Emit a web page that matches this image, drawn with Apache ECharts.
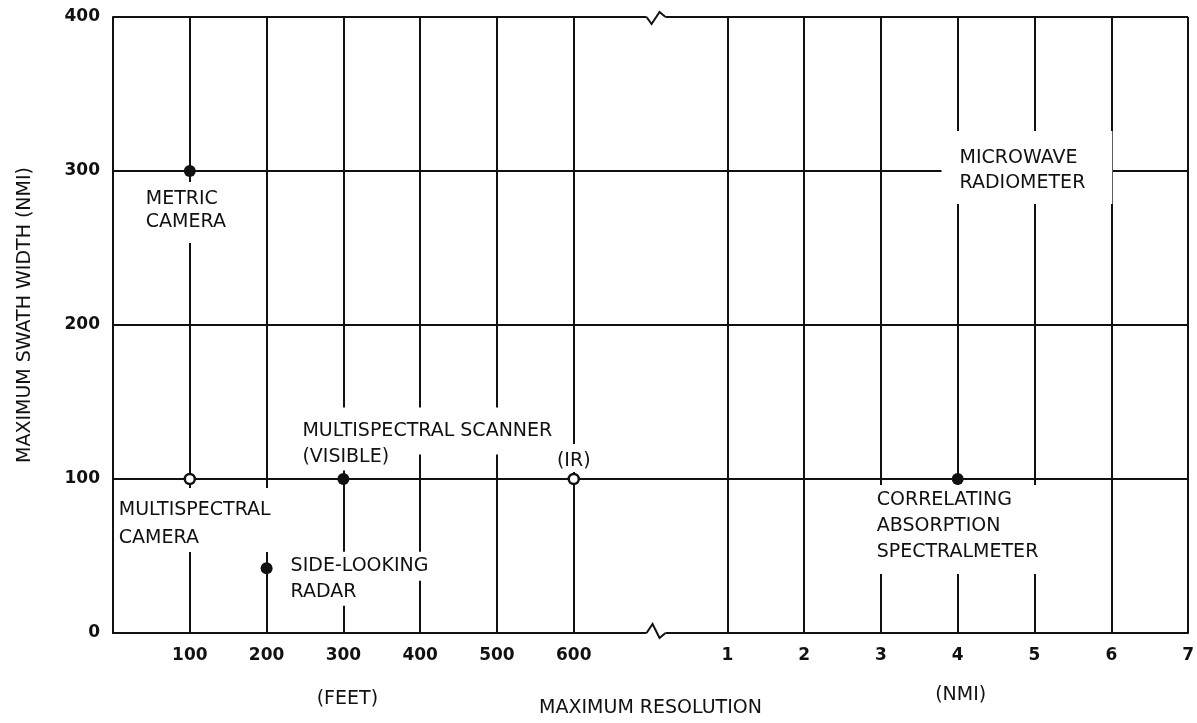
<!DOCTYPE html>
<html>
<head>
<meta charset="utf-8">
<title>Maximum swath width vs maximum resolution</title>
<style>
    html, body { margin: 0; padding: 0; background: #fff; }
    #chart { width: 1197px; height: 723px; }
</style>
</head>
<body>
<div id="chart"></div>
<script src="https://cdn.jsdelivr.net/npm/echarts@6/dist/echarts.min.js"></script>
<script>
    // sensors, best resolution and widest swath
    var sensors = ['METRIC CAMERA', 'MULTISPECTRAL CAMERA', 'SIDE-LOOKING RADAR',
        'MULTISPECTRAL SCANNER (VISIBLE)', 'MULTISPECTRAL SCANNER (IR)',
        'CORRELATING ABSORPTION SPECTRALMETER', 'MICROWAVE RADIOMETER'];
    var resolution = [100, 100, 200, 300, 600, 4, 5];
    var resolutionUnit = ['ft', 'ft', 'ft', 'ft', 'ft', 'nmi', 'nmi'];
    var swathWidth = [300, 100, 42, 100, 100, 100, 300];
    var marker = ['solid', 'open', 'solid', 'solid', 'open', 'solid', 'none'];
    var tagLines = [['METRIC', 'CAMERA'], ['MULTISPECTRAL', 'CAMERA'], ['SIDE-LOOKING', 'RADAR'],
        ['MULTISPECTRAL SCANNER', '(VISIBLE)'], ['(IR)'],
        ['CORRELATING', 'ABSORPTION', 'SPECTRALMETER'], ['MICROWAVE', 'RADIOMETER']];

    // broken x axis: feet on the left, nautical miles on the right
    var feetTicks = [100, 200, 300, 400, 500, 600];
    var nmiTicks = [1, 2, 3, 4, 5, 6, 7];
    var yTicks = [0, 100, 200, 300, 400];

    var INK = '#111';
    var FONT = 'DejaVu Sans';
    var feetStep = feetTicks[1] - feetTicks[0];
    var breakPos = feetTicks.length + 1;          // where the axis is broken
    var xMax = breakPos + nmiTicks.length;

    function axisPos(v, unit) {
        return unit === 'ft' ? v / feetStep : breakPos + v;
    }
    function tickText(v) {
        if (v >= 1 && v < breakPos) return String(feetTicks[v - 1]);
        if (v > breakPos) return String(nmiTicks[v - breakPos - 1]);
        return '';
    }

    // label placement (pixels relative to the point), white boxes hide the grid behind text
    var tagLayout = [
        {dx: -49, dy: 11, lh: 23, pad: [6, 6, 9, 5]},
        {dx: -75, dy: 9, lh: 28, pad: [8, 6, 0, 4]},
        {dx: 18, dy: -15, lh: 26, linePad: [[5, 6], [4, 6]]},
        {dx: -47, dy: -61, lh: 26, linePad: [[14, 6], [4, 6]]},
        {dx: 0, dy: -35, lh: 22, pad: [6, 4, 0, 4], align: 'center'},
        {dx: -87, dy: 6, lh: 26, pad: [2, 6, 9, 6]},
        {dx: -93, dy: -40, lh: 25, pad: [15, 27, 8, 18]}
    ];

    function tag(lines, t) {
        var label = {
            show: true, position: 'inside',
            align: t.align || 'left', verticalAlign: 'top',
            offset: [t.dx, t.dy],
            color: INK, fontSize: 19, fontFamily: FONT,
            lineHeight: t.lh, textBorderWidth: 0
        };
        if (t.linePad) {
            var rich = {};
            label.formatter = lines.map(function (s, i) {
                rich['l' + i] = {
                    backgroundColor: '#fff', color: INK, fontSize: 19, fontFamily: FONT,
                    lineHeight: t.lh, textBorderWidth: 0,
                    padding: [t.linePad[i][0], t.linePad[i][1], t.linePad[i][0], t.linePad[i][1]]
                };
                return '{l' + i + '|' + s + '}';
            }).join('\n');
            label.rich = rich;
        } else {
            label.formatter = lines.join('\n');
            label.backgroundColor = '#fff';
            label.padding = t.pad;
        }
        return label;
    }

    var points = sensors.map(function (name, i) {
        var m = marker[i];
        return {
            name: name,
            value: [axisPos(resolution[i], resolutionUnit[i]), swathWidth[i]],
            symbolSize: m === 'none' ? 1 : (m === 'open' ? 10 : 12),
            itemStyle: m === 'open'
                ? {color: '#fff', borderColor: INK, borderWidth: 2.5, opacity: 1}
                : {color: m === 'none' ? 'rgba(0,0,0,0)' : INK, opacity: 1},
            label: tag(tagLines[i], tagLayout[i])
        };
    });

    // no grid line where the axis is broken
    var xGridColors = [];
    for (var k = 0; k <= xMax; k++) xGridColors.push(k === breakPos ? 'rgba(0,0,0,0)' : INK);

    var chart = echarts.init(document.getElementById('chart'));
    chart.setOption({
        animation: false,
        backgroundColor: '#fff',
        textStyle: {fontFamily: FONT},
        grid: {left: 113, right: 5, top: 17, bottom: 86},
        xAxis: {
            type: 'value', min: 0, max: xMax, interval: 1,
            name: 'MAXIMUM RESOLUTION', nameLocation: 'middle', nameGap: 66,
            nameTextStyle: {fontSize: 19, color: INK, fontFamily: FONT},
            axisLine: {lineStyle: {color: INK, width: 2}},
            axisTick: {show: false},
            axisLabel: {margin: 14, fontSize: 17, fontWeight: 'bold', color: INK, formatter: tickText},
            splitLine: {lineStyle: {color: xGridColors, width: 2}}
        },
        yAxis: {
            type: 'value', min: yTicks[0], max: yTicks[yTicks.length - 1], interval: yTicks[1] - yTicks[0],
            name: 'MAXIMUM SWATH WIDTH (NMI)', nameLocation: 'middle', nameGap: 78,
            nameTextStyle: {fontSize: 19, color: INK, fontFamily: FONT, padding: [0, 0, 0, 20]},
            axisLine: {show: true, lineStyle: {color: INK, width: 2}},
            axisTick: {show: false},
            axisLabel: {margin: 13, fontSize: 17, fontWeight: 'bold', color: INK},
            splitLine: {lineStyle: {color: INK, width: 2}}
        },
        series: [{
            type: 'scatter',
            data: points,
            itemStyle: {opacity: 1},
            emphasis: {disabled: true}
        }]
    });

    // break marks on the frame and the unit captions under the two scales
    var bx = chart.convertToPixel({xAxisIndex: 0}, breakPos);
    var yTop = chart.convertToPixel({yAxisIndex: 0}, yTicks[yTicks.length - 1]);
    var yBot = chart.convertToPixel({yAxisIndex: 0}, yTicks[0]);
    var feetX = chart.convertToPixel({xAxisIndex: 0}, axisPos(300, 'ft'));
    var nmiX = chart.convertToPixel({xAxisIndex: 0}, axisPos(4, 'nmi'));
    chart.setOption({
        graphic: [
            {type: 'rect', z: 10, shape: {x: bx - 4, y: yTop - 3, width: 19, height: 6}, style: {fill: '#fff'}},
            {type: 'polyline', z: 11, shape: {points: [[bx - 4, yTop], [bx + 1, yTop + 7], [bx + 9, yTop - 5], [bx + 15, yTop]]},
                style: {stroke: INK, lineWidth: 2, fill: null}},
            {type: 'rect', z: 10, shape: {x: bx - 4, y: yBot - 3, width: 19, height: 6}, style: {fill: '#fff'}},
            {type: 'polyline', z: 11, shape: {points: [[bx - 4, yBot], [bx + 2, yBot - 9], [bx + 9, yBot + 5], [bx + 15, yBot]]},
                style: {stroke: INK, lineWidth: 2, fill: null}},
            {type: 'text', z: 11, x: feetX + 4, y: 699,
                style: {text: '(FEET)', fontSize: 19, fontFamily: FONT, fill: INK, align: 'center', verticalAlign: 'middle'}},
            {type: 'text', z: 11, x: nmiX + 3, y: 695,
                style: {text: '(NMI)', fontSize: 19, fontFamily: FONT, fill: INK, align: 'center', verticalAlign: 'middle'}}
        ]
    });
</script>
</body>
</html>
